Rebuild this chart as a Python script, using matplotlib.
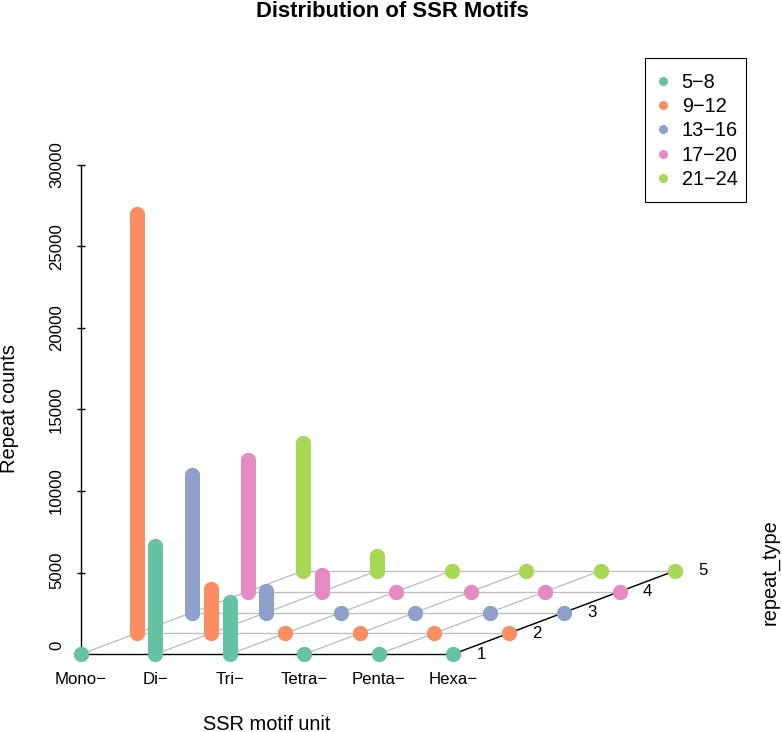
import matplotlib
matplotlib.use("Agg")
import matplotlib.pyplot as plt
from matplotlib.lines import Line2D
from matplotlib.patches import Rectangle

plt.rcParams['font.family'] = ['Liberation Sans', 'DejaVu Sans']

motifs = ["Mono−", "Di−", "Tri−", "Tetra−", "Penta−", "Hexa−"]
repeat_groups = ["5−8", "9−12", "13−16", "17−20", "21−24"]
colors = ["#66C2A5", "#FC8D62", "#8DA0CB", "#E78AC3", "#A6D854"]
z_ticks = [0, 5000, 10000, 15000, 20000, 25000, 30000]

counts_5_8 = [0, 6620, 3220, 0, 0, 0]
counts_9_12 = [25680, 2700, 0, 0, 0, 0]
counts_13_16 = [8420, 1310, 0, 0, 0, 0]
counts_17_20 = [8060, 1000, 0, 0, 0, 0]
counts_21_24 = [7850, 900, 0, 0, 0, 0]
counts = [counts_5_8, counts_9_12, counts_13_16, counts_17_20, counts_21_24]

# oblique projection of (motif index, repeat index, count) to the page
ORIGIN_X, ORIGIN_Y = 81.0, 654.2
STEP_X = 74.4
DEPTH_X, DEPTH_Y = 55.5, -20.85
Z_SCALE = -81.6 / 5000


def proj(i, j, z=0):
    return (ORIGIN_X + STEP_X * i + DEPTH_X * j,
            ORIGIN_Y + DEPTH_Y * j + Z_SCALE * z)


fig = plt.figure(figsize=(7.82, 7.32), dpi=100)
ax = fig.add_axes([0, 0, 1, 1])
ax.set_xlim(0, 782)
ax.set_ylim(732, 0)
ax.axis("off")

nx, ny = len(motifs), len(repeat_groups)
GRID = dict(color="#BEBEBE", lw=0.95, solid_capstyle="butt", zorder=1)
AXIS = dict(color="black", lw=1.0, solid_capstyle="butt", zorder=2)
LABEL_SHIFT = {0: -9, 5000: -2.5}


def seg(a, b, **kw):
    ax.plot([a[0], b[0]], [a[1], b[1]], **kw)


for i in range(nx):
    seg(proj(i, 0), proj(i, ny - 1), **GRID)
for j in range(1, ny):
    seg(proj(0, j), proj(nx - 1, j), **GRID)

seg(proj(0, 0), proj(nx - 1, 0), **AXIS)
seg(proj(nx - 1, 0), proj(nx - 1, ny - 1), **AXIS)
seg(proj(0, 0), proj(0, 0, z_ticks[-1]), **AXIS)

for z in z_ticks:
    x, y = proj(0, 0, z)
    ax.plot([x - 4, x + 4], [y, y], **AXIS)
    ax.text(56.5, y + LABEL_SHIFT.get(z, 0), str(z), rotation=90, ha="center",
            va="center", fontsize=12.1)

for i, name in enumerate(motifs):
    x, y = proj(i, 0)
    ax.text(x, 680, name, ha="center", va="center", fontsize=12.1)

for j in range(ny):
    x, y = proj(nx - 1, j)
    ax.text(x + 28, y, str(j + 1), ha="center", va="center", fontsize=12.1)

# back rows first so that nearer stems cover farther ones
for j in range(ny - 1, -1, -1):
    for i in range(nx):
        x0, y0 = proj(i, j)
        x1, y1 = proj(i, j, counts[j][i])
        ax.plot([x0, x1], [y0, y1], color=colors[j], lw=10.8,
                solid_capstyle="round", zorder=3 + (ny - j))
        ax.plot([x0, x1], [y0, y1], ls="none", marker="o", ms=10.8, mew=0,
                color=colors[j], zorder=3 + (ny - j))

ax.text(392, 11.5, "Distribution of SSR Motifs", ha="center", va="center",
        fontsize=15.8, fontweight="bold")
ax.text(267, 724, "SSR motif unit", ha="center", va="center", fontsize=14.4)
ax.text(9.5, 409, "Repeat counts", ha="center", va="center", rotation=90, fontsize=14.4)
ax.text(770, 572, "repeat_type", ha="center", va="center", rotation=90, fontsize=14.4)

ax.add_patch(Rectangle((645, 58), 101, 144, fill=True, facecolor="white",
                       edgecolor="black", lw=0.8, zorder=19))
handles = [Line2D([], [], ls="none", marker="o", ms=6.5, mew=0, color=c) for c in colors]
leg = ax.legend(handles, repeat_groups, loc="upper left",
                bbox_to_anchor=(659.6 / 782, 1 - 72.6 / 732),
                bbox_transform=ax.transAxes, borderaxespad=0, borderpad=0,
                frameon=False, fontsize=14.3, labelspacing=0.27,
                handletextpad=0.77, handlelength=0.34)
leg.set_zorder(20)

fig.savefig("out.png", dpi=100)
